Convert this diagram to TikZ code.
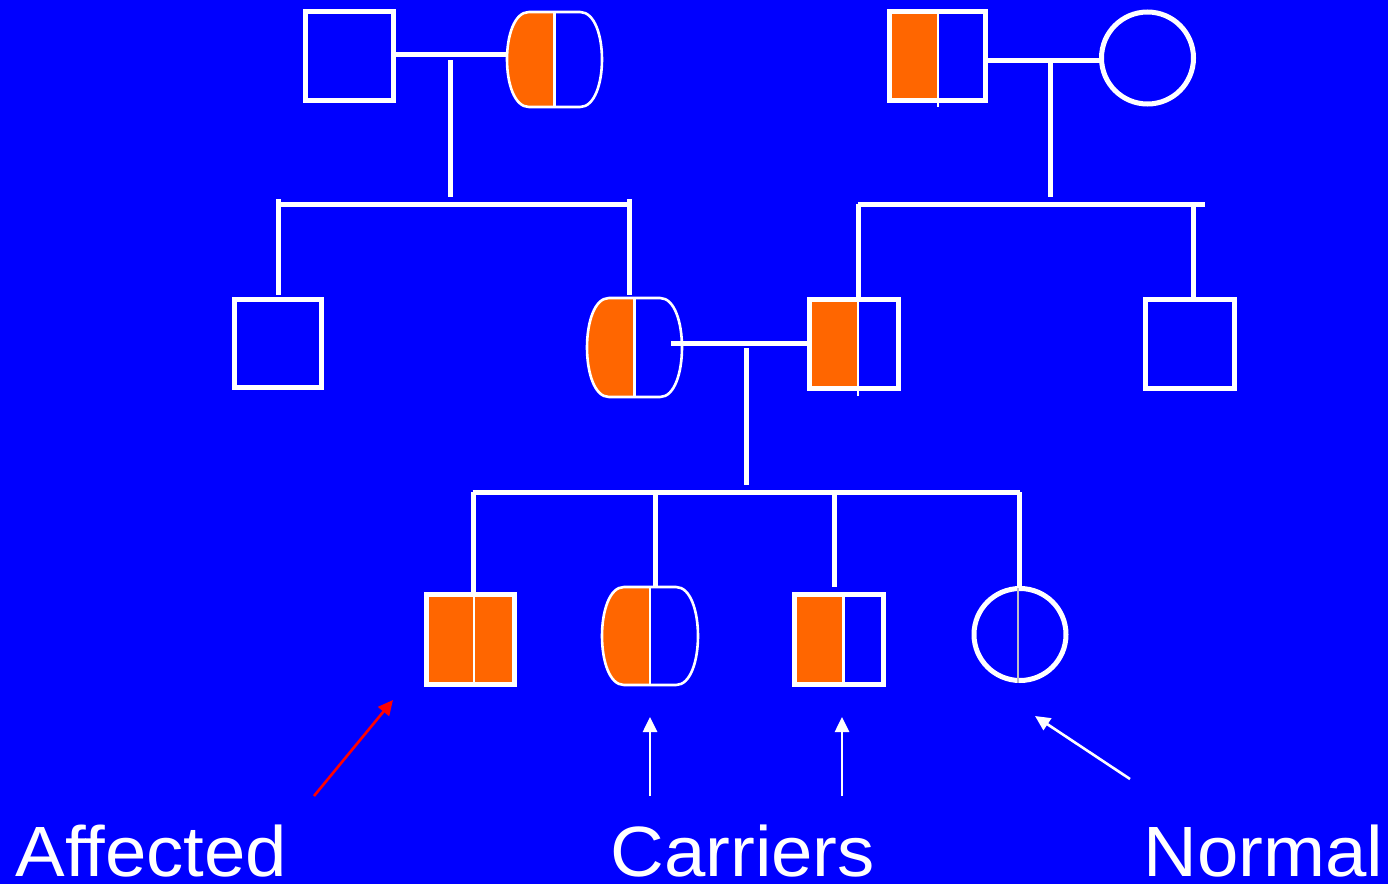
\documentclass[tikz,border=0pt]{standalone}
\usepackage{fontspec}
\setmainfont{Liberation Sans}
\newfontfamily\labelfont[FakeStretch=1.045,Ligatures=NoCommon]{Liberation Sans}
\usetikzlibrary{arrows.meta}
\definecolor{bg}{RGB}{0,0,255}
\definecolor{org}{RGB}{255,102,0}
\definecolor{midgray}{RGB}{190,190,200}
\tikzset{
  heavy/.style={white,line width=2.5pt},
  fineline/.style={white,line width=1.3pt},
  grayline/.style={midgray,line width=1pt},
  whitearrow/.style={white,line width=1.3pt,-{Triangle[length=7.5pt,width=7pt]}},
  redarrow/.style={red,line width=1.3pt,-{Triangle[length=7.5pt,width=7pt]}},
  label/.style={white,inner sep=0pt,anchor=base west,font=\labelfont\fontsize{35.6}{40}\selectfont}
}
% female (rounded) outline path: x0,y0,x1,y1
\newcommand\Dpath[4]{({#1+22},#2) -- ({#3-22},#2) .. controls ({#3+7.33},#2) and ({#3+7.33},#4) .. ({#3-22},#4) -- ({#1+22},#4) .. controls ({#1-7.33},#4) and ({#1-7.33},#2) .. cycle}
\newcommand\carrierF[4]{%
  \begin{scope}
    \clip (#1-12,#2-12) rectangle ({(#1+#3)/2},#4+12);
    \fill[org] \Dpath{#1}{#2}{#3}{#4};
  \end{scope}
  \draw[fineline] \Dpath{#1}{#2}{#3}{#4};
  \draw[fineline] ({(#1+#3)/2},#2) -- ({(#1+#3)/2},#4);
}
\begin{document}
\begin{tikzpicture}[x=0.5pt,y=-0.5pt]
\useasboundingbox (0,0) rectangle (1388,884);
\fill[bg] (0,0) rectangle (1388,884);

% ---------- Generation I, left couple ----------
\draw[heavy] (305.5,11.5) rectangle (393.5,100.5);
\carrierF{507}{12}{602}{107}
\coordinate (m1a) at (393.5,54.5);
\coordinate (m1b) at (507,54.5);
\draw[heavy] (m1a) -- (m1b);
\coordinate (d1a) at (450,60);
\coordinate (d1b) at (450,197);
\draw[heavy] (d1a) -- (d1b);
\coordinate (s1l) at (278.7,204);
\coordinate (s1r) at (629,204);
\draw[heavy] (s1l) -- (s1r);
\coordinate (s1lt) at (278.7,199);
\coordinate (s1lb) at (278.7,295);
\coordinate (s1rt) at (629,199);
\coordinate (s1rb) at (629,295);
\draw[heavy] (s1lt) -- (s1lb);
\draw[heavy] (s1rt) -- (s1rb);

% ---------- Generation I, right couple ----------
\fill[org] (889.5,11.5) rectangle (938,100.5);
\draw[heavy] (889.5,11.5) rectangle (985.5,100.5);
\draw[fineline] (938,11.5) -- (938,107);
\draw[heavy] (1147.5,58) circle (46);
\coordinate (m2a) at (985.5,60);
\coordinate (m2b) at (1101.5,60);
\draw[heavy] (m2a) -- (m2b);
\coordinate (d2a) at (1050,63);
\coordinate (d2b) at (1050,197);
\draw[heavy] (d2a) -- (d2b);
\coordinate (s2l) at (858,204);
\coordinate (s2r) at (1205,204);
\draw[heavy] (s2l) -- (s2r);
\coordinate (s2lb) at (858,298);
\coordinate (s2rt) at (1193,204);
\coordinate (s2rb) at (1193,298);
\draw[heavy] (s2l) -- (s2lb);
\draw[heavy] (s2rt) -- (s2rb);

% ---------- Generation II ----------
\draw[heavy] (234.5,299.5) rectangle (321.5,387.5);
\carrierF{587}{298}{682}{397}
\fill[org] (809.5,299.5) rectangle (858,388.5);
\draw[heavy] (809.5,299.5) rectangle (898.5,388.5);
\draw[fineline] (858,298) -- (858,396);
\draw[heavy] (1145.5,299.5) rectangle (1234.5,388.5);
\coordinate (m3a) at (671,343.5);
\coordinate (m3b) at (809.5,343.5);
\draw[heavy] (m3a) -- (m3b);
\coordinate (d3a) at (746,348);
\coordinate (d3b) at (746,485);
\draw[heavy] (d3a) -- (d3b);
\coordinate (s3l) at (473.7,492);
\coordinate (s3r) at (1019,492);
\draw[heavy] ([xshift=-0.6pt]s3l) -- ([xshift=0.6pt]s3r);
\coordinate (c1t) at (473.7,492);
\coordinate (c1b) at (473.7,595);
\coordinate (c2t) at (655,492);
\coordinate (c2b) at (655,587);
\coordinate (c3t) at (834,492);
\coordinate (c3b) at (834,587);
\coordinate (c4t) at (1019,492);
\coordinate (c4b) at (1019,588);
\draw[heavy] (c1t) -- (c1b);
\draw[heavy] (c2t) -- (c2b);
\draw[heavy] (c3t) -- (c3b);
\draw[heavy] (c4t) -- (c4b);

% ---------- Generation III ----------
\fill[org] (426.5,594.5) rectangle (514.5,684.5);
\draw[heavy] (426.5,594.5) rectangle (514.5,684.5);
\draw[fineline] (474,594.5) -- (474,684.5);
\carrierF{602}{587}{698}{685}
\fill[org] (794.5,594.5) rectangle (843.5,684.5);
\draw[heavy] (794.5,594.5) rectangle (883.5,684.5);
\draw[fineline] (843.5,594.5) -- (843.5,684.5);
\draw[heavy] (1020,634.5) circle (46);
\draw[grayline] (1018,588) -- (1018,683);

% ---------- Arrows ----------
\coordinate (ra) at (314,796);
\coordinate (rb) at (393,700);
\draw[redarrow] (ra) -- (rb);
\coordinate (wa1) at (650,796);
\coordinate (wb1) at (650,717);
\draw[whitearrow] (wa1) -- (wb1);
\coordinate (wa2) at (842,796);
\coordinate (wb2) at (842,717);
\draw[whitearrow] (wa2) -- (wb2);
\coordinate (wa3) at (1130,779);
\coordinate (wb3) at (1035,716);
\draw[whitearrow] (wa3) -- (wb3);

% ---------- Labels ----------
\node[label] (affected) at (15,876) {Affected};
\node[label] (carriers) at (610,876) {Carriers};
\node[label] (normal) at (1143,876) {Normal};
\end{tikzpicture}
\end{document}
